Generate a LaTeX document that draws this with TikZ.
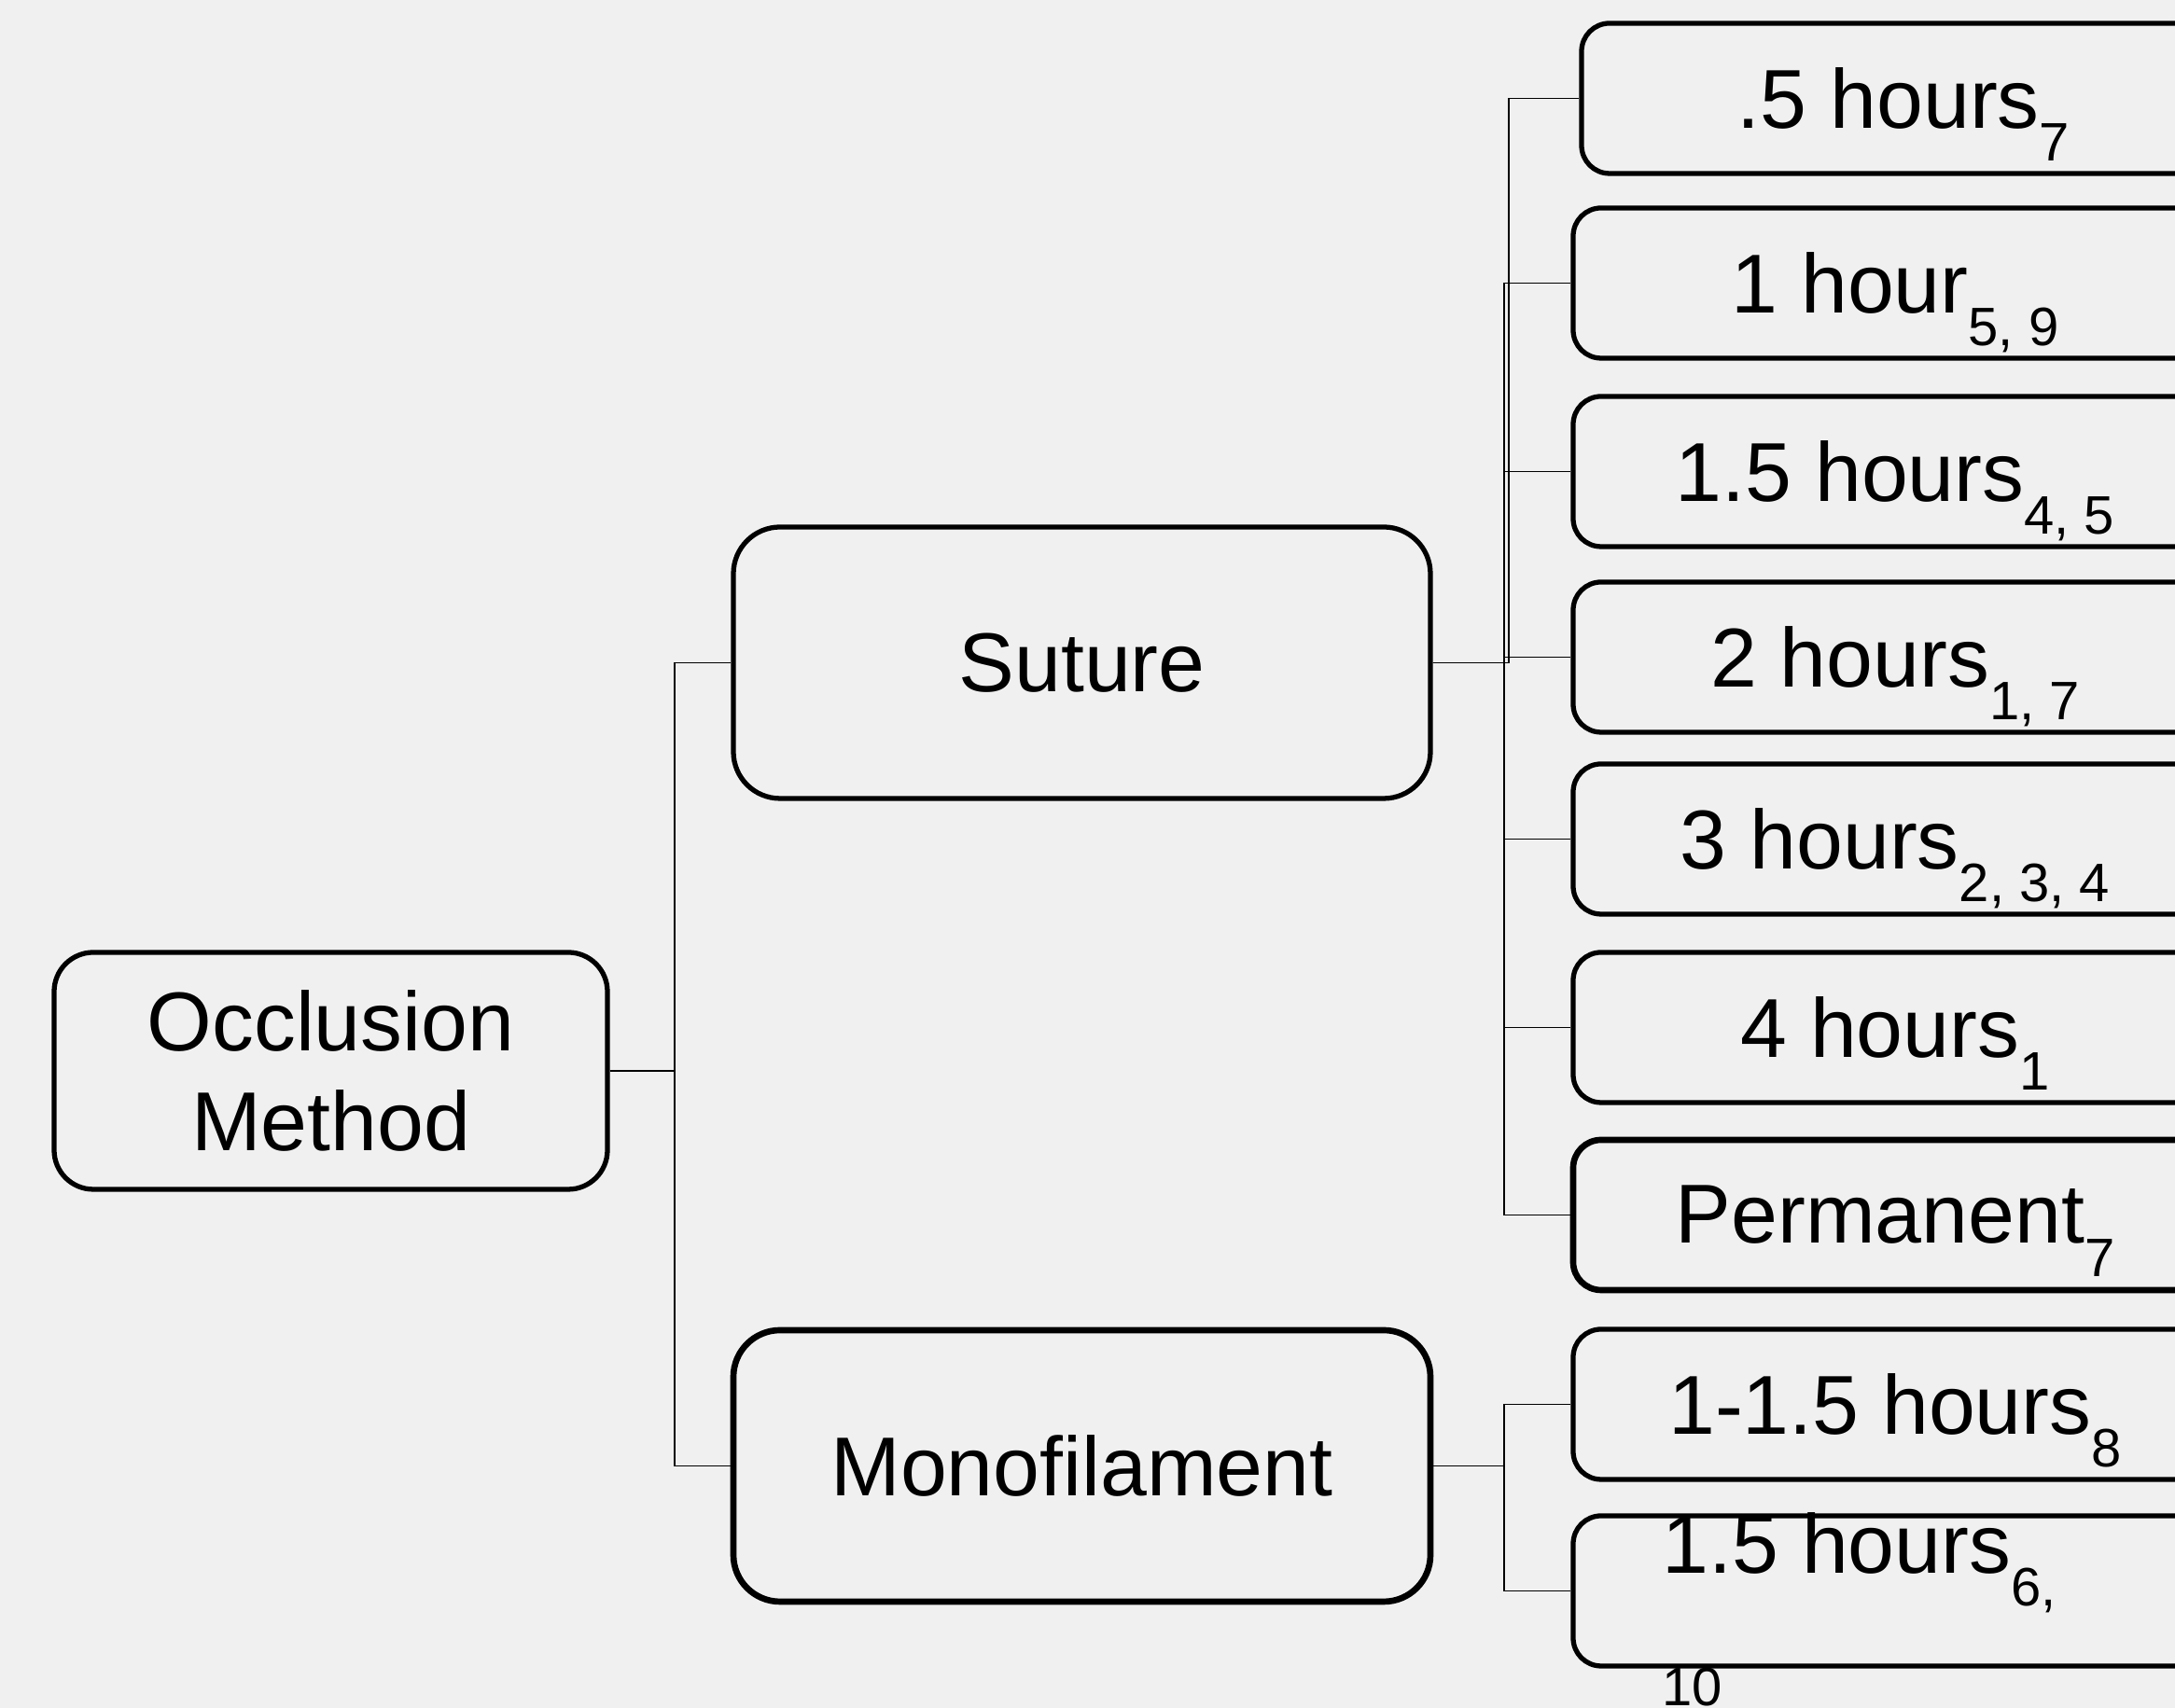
\documentclass[tikz,border=0pt]{standalone}
\usepackage{fontspec}
\setmainfont{Liberation Sans}
\usepackage{xcolor}
\usepackage{tikz}
\usetikzlibrary{positioning}
\definecolor{pagegray}{HTML}{F0F0F0}
\newcommand{\refsub}[1]{\raisebox{-10pt}[0pt][0pt]{\fontsize{16.5}{16.5}\selectfont #1}}
\tikzset{
  base/.style={align=center, font=\fontsize{25.5}{30.4}\selectfont, text=black, inner sep=0pt},
  root/.style={base, rectangle, rounded corners=0.42cm, draw=black, line width=1.5pt, minimum width=5.93cm, minimum height=2.54cm},
  branch/.style={base, rectangle, rounded corners=0.5cm, draw=black, line width=1.5pt, minimum width=7.47cm, minimum height=2.91cm},
  leaf/.style={base, rectangle, rounded corners=0.3cm, draw=black, line width=1.5pt, minimum width=6.9cm, minimum height=1.61cm},
  wraptext/.style={base, align=left, anchor=north west},
  link/.style={draw=black, line width=0.5pt}
}

\begin{document}
\begin{tikzpicture}
  \useasboundingbox (0,0) rectangle (23.31,18.31);
  \fill[pagegray] (0,0) rectangle (23.31,18.31);
  \clip (0,0) rectangle (23.31,18.31);

  % Nodes
  \node[root] (occl) at (3.545,6.83) {Occlusion\\Method};
  \node[branch] (suture) at (11.595,11.205) {Suture};
  \node[branch, line width=1.9pt] (mono) at (11.595,2.595) {Monofilament};

  \node[leaf] (halfh) at (20.40,17.255) {.5 hours\refsub{7}};
  \node[leaf] (oneh) at (20.31,15.275) {1 hour\refsub{5, 9}};
  \node[leaf] (onehalfh) at (20.31,13.255) {1.5 hours\refsub{4, 5}};
  \node[leaf] (twoh) at (20.31,11.265) {2 hours\refsub{1, 7}};
  \node[leaf] (threeh) at (20.31,9.315) {3 hours\refsub{2, 3, 4}};
  \node[leaf] (fourh) at (20.31,7.295) {4 hours\refsub{1}};
  \node[leaf, line width=1.9pt] (perm) at (20.31,5.285) {Permanent\refsub{7}};

  \node[leaf] (monoa) at (20.31,3.255) {1-1.5 hours\refsub{8}};
  \node[leaf] (monob) at (20.31,1.255) {};
  \node[wraptext] (monobtxt) at (17.81,2.10) {1.5 hours\refsub{6,}\\\refsub{10}};

  % Edges
  \draw[link] (occl.east) -- ++(0.69,0) |- (suture.west);
  \draw[link] (occl.east) -- ++(0.69,0) |- (mono.west);

  \draw[link] (suture.east) -- ++(0.81,0) |- (halfh.west);
  \foreach \leafname in {oneh,onehalfh,twoh,threeh,fourh,perm}
    \draw[link] (suture.east) -- ++(0.76,0) |- (\leafname.west);

  \draw[link] (mono.east) -- ++(0.76,0) |- (monoa.west);
  \draw[link] (mono.east) -- ++(0.76,0) |- (monob.west);
\end{tikzpicture}
\end{document}
